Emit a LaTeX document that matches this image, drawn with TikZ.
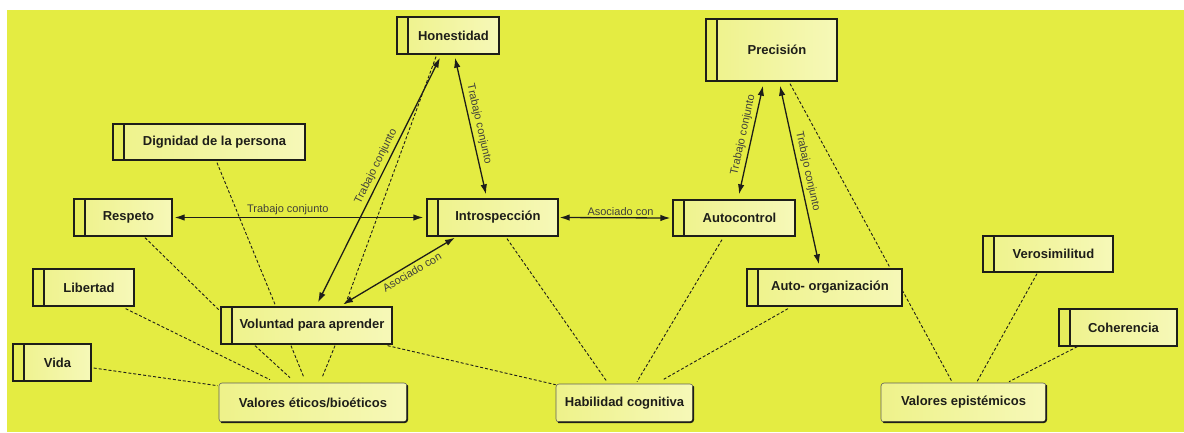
\documentclass[tikz,border=0pt]{standalone}
\usepackage{fontspec}
\setmainfont{Liberation Sans}
\usetikzlibrary{arrows.meta}
\definecolor{bgyel}{RGB}{228,236,66}
\definecolor{boxl}{RGB}{238,242,138}
\definecolor{boxr}{RGB}{246,248,184}
\definecolor{stripc}{RGB}{231,237,92}
\definecolor{ink}{RGB}{30,30,25}
\pgfdeclarelayer{bg}
\pgfdeclarelayer{lines}
\pgfsetlayers{bg,lines,main}

\begin{document}
\begin{tikzpicture}[x=1pt,y=-1pt,
  boxfont/.style={font=\fontsize{13}{15}\selectfont\bfseries, text=ink},
  pbox/.style={boxfont, draw=ink, line width=1.3pt, left color=boxl, right color=boxr,
    inner sep=0pt,
    path picture={
      \fill[stripc] (path picture bounding box.south west) rectangle
        ([xshift=11pt]path picture bounding box.north west);
      \draw[line width=1.3pt, ink] ([xshift=11pt]path picture bounding box.south west)
        -- ([xshift=11pt]path picture bounding box.north west);}},
  rbox/.style={boxfont, draw=ink!70, line width=0.6pt, rounded corners=3pt,
    left color=boxl, right color=boxr, inner sep=0pt},
  rshade/.style={draw=ink, line width=1.8pt, rounded corners=3pt, line cap=round},
  arr/.style={{Latex[length=10pt,width=6.5pt]}-{Latex[length=10pt,width=6.5pt]},
    line width=1.3pt, ink},
  dsh/.style={dash pattern=on 3pt off 2pt, line width=0.9pt, ink},
  lab/.style={font=\fontsize{11}{13}\selectfont, text=ink!85, inner sep=2pt},
  slab/.style={lab, sloped, inner sep=3pt}]

\useasboundingbox (0,0) rectangle (1184,432);
\begin{pgfonlayer}{bg}
  \fill[white] (0,0) rectangle (1184,432);
  \fill[bgyel] (7,10) rectangle (1184,432);
\end{pgfonlayer}

% boxes with a side strip
\node[pbox, minimum width=102pt, minimum height=37pt] (hon) at (448,35.5) {\hspace*{11pt}Honestidad};
\node[pbox, minimum width=131pt, minimum height=62pt] (pre) at (771.5,50) {\hspace*{11pt}Precisión};
\node[pbox, minimum width=192pt, minimum height=36pt] (dig) at (209,142) {\hspace*{11pt}Dignidad de la persona};
\node[pbox, minimum width=98pt, minimum height=37pt] (res) at (123,217.5) {\hspace*{11pt}Respeto};
\node[pbox, minimum width=131pt, minimum height=37pt] (int) at (492.5,217.5) {\hspace*{11pt}Introspección};
\node[pbox, minimum width=122pt, minimum height=36pt] (aut) at (734,218) {\hspace*{11pt}Autocontrol};
\node[pbox, minimum width=155pt, minimum height=37pt] (aor) at (824.5,287.5) {\hspace*{11pt}Auto- organización};
\node[pbox, minimum width=130pt, minimum height=36pt] (ver) at (1048,254) {\hspace*{11pt}Verosimilitud};
\node[pbox, minimum width=118pt, minimum height=37pt] (coh) at (1118,327.5) {\hspace*{11pt}Coherencia};
\node[pbox, minimum width=101pt, minimum height=37pt] (lib) at (83.5,287.5) {\hspace*{11pt}Libertad};
\node[pbox, minimum width=78pt, minimum height=37pt] (vid) at (52,362.5) {\hspace*{11pt}Vida};
\node[pbox, minimum width=171pt, minimum height=37pt] (vol) at (306.5,325.5) {\hspace*{11pt}Voluntad para aprender};

% grouping boxes
\node[rbox, minimum width=188pt, minimum height=39pt] (vet) at (313,402.5) {Valores éticos/bioéticos};
\node[rbox, minimum width=137pt, minimum height=38pt] (hab) at (624.5,403) {Habilidad cognitiva};
\node[rbox, minimum width=165pt, minimum height=39pt] (vep) at (963.5,402.5) {Valores epistémicos};
\foreach \b in {vet,hab,vep}{
  \draw[rshade] ([xshift=3pt]\b.south west) -- (\b.south east) -- ([yshift=-3pt]\b.north east);
}

% dashed links, kept beneath the boxes
\begin{pgfonlayer}{lines}
  \draw[dsh] ([xshift=-12pt,yshift=-2pt]hon.south) -- ([xshift=38.5pt,yshift=1pt]vol.north);
  \draw[dsh] ([xshift=8pt,yshift=-2pt]dig.south) -- ([xshift=-31.5pt,yshift=2pt]vol.north);
  \draw[dsh] ([xshift=22pt,yshift=-1pt]res.south) -- ([xshift=-1pt,yshift=-4pt]vol.north west);
  \draw[dsh] ([xshift=-9pt,yshift=-2pt]lib.south east) -- ([xshift=-43pt,yshift=3pt]vet.north);
  \draw[dsh] ([xshift=2pt,yshift=-5.5pt]vid.east) -- ([xshift=-1pt,yshift=-3pt]vet.north west);
  \draw[dsh] ([xshift=-51.5pt,yshift=-1pt]vol.south) -- ([xshift=-23pt,yshift=5pt]vet.north);
  \draw[dsh] ([xshift=-15.5pt,yshift=-1pt]vol.south) -- ([xshift=-9pt,yshift=5pt]vet.north);
  \draw[dsh] ([xshift=28.5pt,yshift=-1pt]vol.south) -- ([xshift=9pt,yshift=5pt]vet.north);
  \draw[dsh] ([xshift=-5pt,yshift=-1pt]vol.south east) -- ([yshift=-1pt]hab.north west);
  \draw[dsh] ([xshift=14.5pt,yshift=-2pt]int.south) -- ([xshift=-17.5pt,yshift=2pt]hab.north);
  \draw[dsh] ([xshift=-12pt,yshift=-3pt]aut.south) -- ([xshift=12.5pt,yshift=2pt]hab.north);
  \draw[dsh] ([xshift=-36.5pt,yshift=-2pt]aor.south) -- ([xshift=38.5pt,yshift=4pt]hab.north);
  \draw[dsh] ([xshift=18.5pt,yshift=-2pt]pre.south) -- ([xshift=-11.5pt,yshift=1pt]vep.north);
  \draw[dsh] ([xshift=-11pt,yshift=-1pt]ver.south) -- ([xshift=13.5pt,yshift=1pt]vep.north);
  \draw[dsh] ([xshift=19pt]coh.south west) -- ([xshift=45.5pt,yshift=1pt]vep.north);
\end{pgfonlayer}

% labelled two-way relations
\draw[arr] ([xshift=2pt]res.east) -- node[lab, above, pos=0.455] {Trabajo conjunto} ([xshift=-3pt]int.west);
\draw[arr] ([xshift=1pt]int.east) -- node[lab, above, pos=0.55] {Asociado con} ([xshift=-2pt]aut.west);
\draw[arr] ([xshift=7pt,yshift=-3pt]hon.south) -- node[slab, above, pos=0.5] {Trabajo conjunto} ([xshift=-6.5pt,yshift=4pt]int.north);
\draw[arr] ([xshift=-8pt,yshift=-3pt]hon.south) -- node[slab, above, pos=0.46] {Trabajo conjunto} ([xshift=11.5pt,yshift=4pt]vol.north);
\draw[arr] ([xshift=-37.5pt,yshift=-1pt]int.south) -- node[slab, below, pos=0.42] {Asociado con} ([xshift=36.5pt,yshift=2pt]vol.north);
\draw[arr] ([xshift=-8.5pt,yshift=-4pt]pre.south) -- node[slab, above, pos=0.47] {Trabajo conjunto} ([xshift=5pt,yshift=5pt]aut.north);
\draw[arr] ([xshift=8.5pt,yshift=-4pt]pre.south) -- node[slab, above, pos=0.49] {Trabajo conjunto} ([xshift=-5.5pt,yshift=4pt]aor.north);

\end{tikzpicture}
\end{document}
